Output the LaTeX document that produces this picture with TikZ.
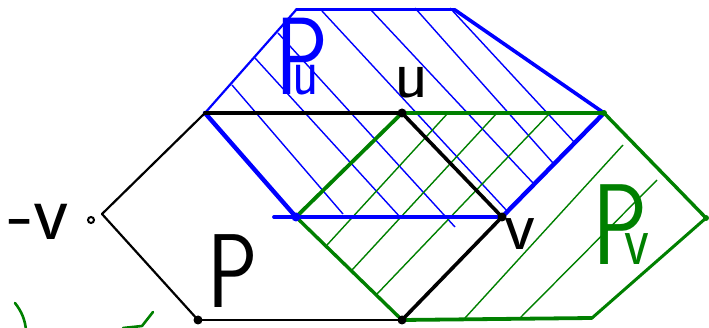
\documentclass[tikz,border=0pt]{standalone}
\usepackage{fontspec}
\definecolor{pblue}{RGB}{0,0,255}
\definecolor{pgreen}{RGB}{0,128,0}
\begin{document}
\begin{tikzpicture}[x=1pt,y=-1pt,
  edgeblk/.style={black, line width=2.2pt, line cap=round, line join=round},
  edgeblkthick/.style={black, line width=3.6pt, line cap=round},
  edgeblue/.style={pblue, line width=3pt, line cap=round},
  edgegreen/.style={pgreen, line width=3.4pt, line cap=round},
  bhatch/.style={pblue, line width=1.4pt},
  ghatch/.style={pgreen, line width=1.4pt},
  lab/.style={inner sep=0pt, font=\sffamily, anchor=base west},
  vdot/.style={circle, fill=black, inner sep=0pt, minimum size=9pt},
]
\useasboundingbox (0,0) rectangle (709,328);

% vertices of P
\coordinate (mv) at (102,214);
\coordinate (pa) at (205,113);
\coordinate (u)  at (402,113);
\coordinate (v)  at (502,217);
\coordinate (pb) at (402,320);
\coordinate (pc) at (198,320);
% vertices of P_u
\coordinate (bb) at (296,10);
\coordinate (bc) at (455,10);
\coordinate (bd) at (604,113);
\coordinate (bf) at (296,217);
\coordinate (bs) at (274,217);
% vertices of P_v
\coordinate (gg) at (706,218);
\coordinate (gh) at (592,318);

% blue hatching
\foreach \a/\b/\c/\d in {232/85/343/214, 255/58/400/217, 278/33/455/227,
  322/11/508/212, 371/10/533/183, 415/8/553/163, 450/8/575/143}
  \draw[bhatch] (\a,\b) -- (\c,\d);
% green hatching
\foreach \a/\b/\c/\d in {327/245/448/113, 352/270/497/113, 377/294/550/113,
  465/318/623/145, 520/318/657/180}
  \draw[ghatch] (\a,\b) -- (\c,\d);

% blue hexagon P_u
\draw[edgeblue, line width=2.2pt] (pa) -- (bb);
\draw[edgeblue] (bb) -- (bc);
\draw[edgeblue, line width=3.6pt] (bc) -- (bd);
\draw[edgeblue, line width=4.4pt] (bd) -- (v);
\draw[edgeblue, line width=3.8pt] (bs) -- (v);
\draw[edgeblue, line width=4.4pt] (pa) -- (bf);

% green hexagon P_v
\draw[edgegreen, line width=3.8pt] (bf) -- (u);
\draw[edgegreen, line width=3.8pt] (u) -- (bd);
\draw[edgegreen] (bd) -- (gg);
\draw[edgegreen, line width=3pt] (gg) -- (gh);
\draw[edgegreen, line width=3.8pt] (gh) -- (pb);
\draw[edgegreen] (bf) -- (pb);

% black hexagon P
\draw[edgeblk] (mv) -- (pa);
\draw[edgeblkthick] (pa) -- (u);
\draw[edgeblkthick] (u) -- (v);
\draw[edgeblkthick] (v) -- (pb);
\draw[edgeblk] (pb) -- (pc);
\draw[edgeblk] (pc) -- (mv);

% dots
\node[vdot] (du) at (u) {};
\node[vdot] (dv) at (v) {};
\node[vdot] (dpb) at (pb) {};
\node[vdot] (dpc) at (pc) {};
\node[vdot, fill=pblue] (dbf) at (bf) {};
\node[vdot, fill=pgreen, minimum size=6pt] (dbd) at (bd) {};
\node[vdot, fill=pgreen, minimum size=6pt] (dgg) at (gg) {};
\node[circle, draw=black, line width=2pt, inner sep=0pt, minimum size=6pt] (cmv) at (91,220) {};

% labels
\node[lab] (lP) at (207,308) {\scalebox{0.8}[1]{\fontsize{105}{105}\selectfont P}};
\node[lab, text=pblue] (lPu) at (275,95) {\scalebox{0.8}[1]{\fontsize{110}{110}\selectfont P\kern-44pt{\fontsize{68}{68}\selectfont u}}};
\node[lab, text=pgreen] (lPv) at (592,265) {\scalebox{0.8}[1]{\fontsize{115}{115}\selectfont P\kern-29pt{\fontsize{72}{72}\selectfont v}}};
\node[lab] (lu) at (394,98) {\fontsize{70}{70}\selectfont u};
\node[lab] (lv) at (504,250) {\fontsize{72}{72}\selectfont v};
\node[lab] (lmv) at (8,240) {\fontsize{82}{82}\selectfont -v};

% green strokes at the bottom left
\draw[pgreen, line width=2.6pt, line cap=round] (15,303) .. controls (22,312) and (25,320) .. (26,330);
\draw[pgreen, line width=2.6pt, line cap=round, line join=round] (123,328) -- (142,326) -- (153,312);
\end{tikzpicture}
\end{document}
